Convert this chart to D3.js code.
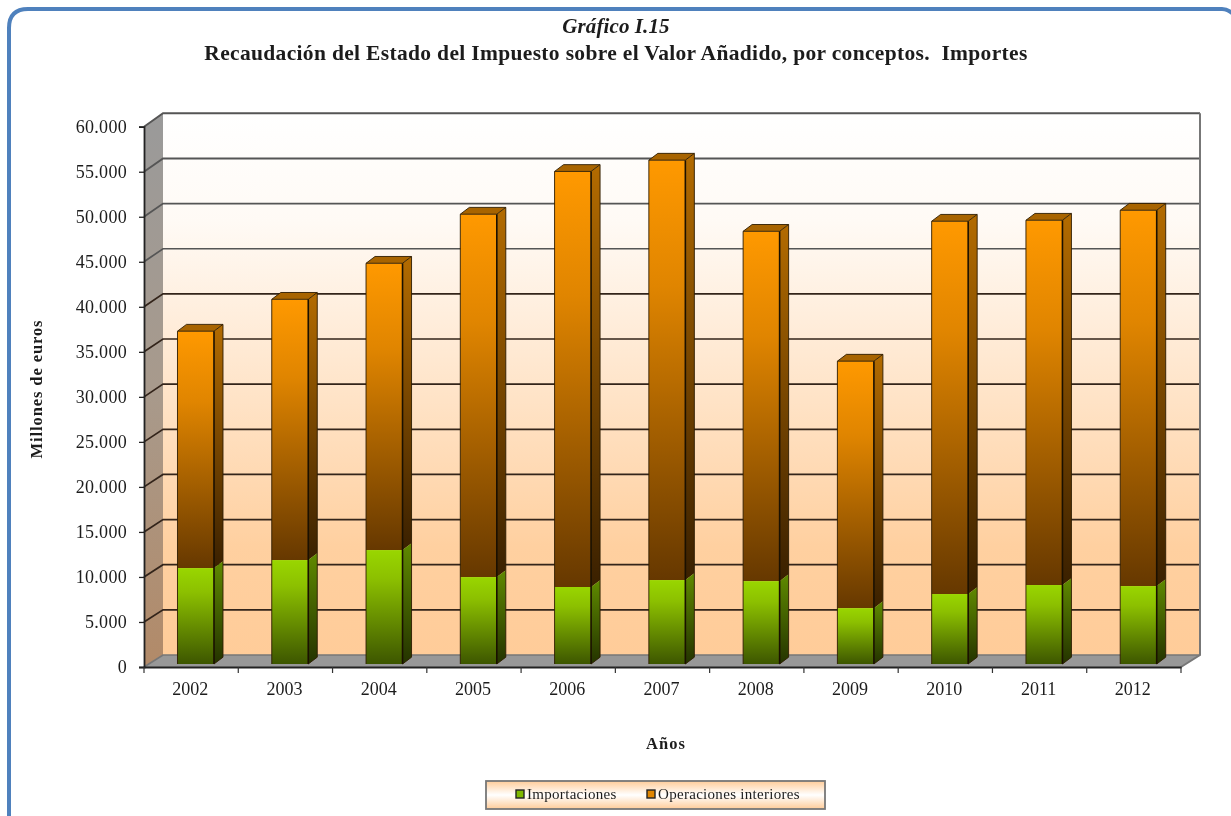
<!DOCTYPE html>
<html><head><meta charset="utf-8">
<script src="https://cdn.jsdelivr.net/npm/d3@7/dist/d3.min.js"></script>
<style>html,body{margin:0;padding:0;background:#fff}svg{display:block;filter:blur(.6px)}text{font-family:"Liberation Serif",serif;fill:#1c1c1c}</style>
</head><body><svg id="c" width="1231" height="816"></svg>
<script>
const years=["2002","2003","2004","2005","2006","2007","2008","2009","2010","2011","2012"];
const importaciones=[10650,11540,12650,9650,8550,9320,9200,6200,7770,8770,8650];
const interiores=[26310,28960,31850,40300,46150,46630,38850,27430,41400,40510,41740];
const yTicks=[0,5000,10000,15000,20000,25000,30000,35000,40000,45000,50000,55000,60000];
const seriesNames=["Importaciones","Operaciones interiores"];

const svg=d3.select("#c"),defs=svg.append("defs");
function grad(id,stops){const g=defs.append("linearGradient").attr("id",id).attr("x1",0).attr("y1",0).attr("x2",0).attr("y2",1);
 stops.forEach(([o,c])=>g.append("stop").attr("offset",o).attr("stop-color",c));}
grad("wall",[[0,"#ffffff"],[.2,"#fffaf5"],[.8,"#ffd0a0"],[1,"#ffcc99"]]);
grad("lwall",[[0,"#9a9a9a"],[.5,"#a89a8c"],[1,"#b28a68"]]);
grad("orF",[[0,"#ff9900"],[.3,"#e08500"],[1,"#663800"]]);
grad("orS",[[0,"#b36b00"],[1,"#3a2000"]]);
grad("grF",[[0,"#99d600"],[.25,"#8cc000"],[1,"#3d5600"]]);
grad("grS",[[0,"#5f8a00"],[1,"#243300"]]);
grad("leg",[[0,"#ffcc99"],[.5,"#ffffff"],[1,"#ffcc99"]]);

// frame
svg.append("path").attr("d","M9,820 Q9,812 9,806 V28 Q9,9 28,9 H1222 Q1228,9 1233,14").attr("fill","none").attr("stroke","#4f81bd").attr("stroke-width",4);

// scales
const x=d3.scaleBand().domain(years).range([144,1181]);
const yFront=d3.scaleLinear().domain([0,60000]).range([667,126.7]);
const yBack=d3.scaleLinear().domain([0,60000]).range([655,113.3]);
const yBar=d3.scaleLinear().domain([0,60000]).range([664,123.7]);
const dx=19,backX0=x.range()[0]+dx,backX1=x.range()[1]+dx;

// walls
svg.append("rect").attr("x",backX0).attr("y",yBack(60000)).attr("width",backX1-backX0).attr("height",yBack(0)-yBack(60000)).attr("fill","url(#wall)");
svg.append("path").attr("d",`M144,${yFront(60000)}L${backX0},${yBack(60000)}V${yBack(0)}L144,${yFront(0)}Z`).attr("fill","url(#lwall)");
svg.append("path").attr("d",`M144,${yFront(0)}L${backX0},${yBack(0)}H${backX1}L1181,${yFront(0)}Z`).attr("fill","#989898");
// gridlines
yTicks.forEach(v=>{
 const c=v>=45000?"#555":"#33241a",w=v>=50000?1.9:1.7;
 svg.append("path").attr("d",`M144,${yFront(v)}L${backX0},${yBack(v)}H${backX1}`).attr("fill","none").attr("stroke",v==0?"#777":c).attr("stroke-width",w);
});
svg.append("path").attr("d",`M${backX1},${yBack(60000)}V${yBack(0)}L1181,${yFront(0)}`).attr("fill","none").attr("stroke","#777").attr("stroke-width",2);

// bars
const barW=36.5,depX=9,depY=6.8;
function seg(g,cx,y0,y1,front,side,top){
 const l=cx-barW/2,r=cx+barW/2;
 g.append("rect").attr("x",l).attr("y",y1).attr("width",barW).attr("height",y0-y1).attr("fill",`url(#${front})`);
 g.append("path").attr("d",`M${r},${y1}l${depX},${-depY}V${y0-depY}L${r},${y0}Z`).attr("fill",`url(#${side})`);
 if(top) g.append("path").attr("d",`M${l},${y1}l${depX},${-depY}h${barW}l${-depX},${depY}Z`).attr("fill",top);
}
years.forEach((yr,i)=>{
 const cx=x(yr)+x.bandwidth()/2+4.6,g=svg.append("g");
 const a=importaciones[i],b=a+interiores[i];
 seg(g,cx,yBar(a),yBar(b),"orF","orS","#a86400");
 seg(g,cx,yBar(0),yBar(a),"grF","grS",null);
 const l=cx-barW/2,r=cx+barW/2,t=yBar(b),z=yBar(0);
 g.append("path").attr("d",`M${r},${t}V${z}`).attr("stroke","#1a1000").attr("stroke-width",1.6);
 g.append("path").attr("d",`M${l},${z}V${t}H${r}l${depX},${-depY}V${z-depY}L${r},${z}M${l},${t}l${depX},${-depY}h${barW}`).attr("fill","none").attr("stroke","#2e1c00").attr("stroke-width",.9);
});

// axes
const ax=svg.append("g").attr("transform","translate(144,0)")
 .call(d3.axisLeft(yFront).tickValues(yTicks).tickSize(5).tickPadding(12).tickFormat(d=>d3.format(",")(d).replace(/,/g,".")));
const ax2=svg.append("g").attr("transform",`translate(0,${yFront(0)})`)
 .call(d3.axisBottom(x).tickSize(0).tickPadding(15));
[ax,ax2].forEach(a=>{a.selectAll("text").attr("font-size",18).attr("letter-spacing",.3).style("font-family",'"Liberation Serif",serif').attr("fill","#222");
 a.select(".domain").attr("stroke","#222").attr("stroke-width",1.8);a.selectAll("line").attr("stroke","#222").attr("stroke-width",1.3);});
ax2.selectAll("text").attr("dx",-1).attr("letter-spacing",0);
const edges=years.map(d=>x(d)).concat([x.range()[1]]);
svg.selectAll(".xt").data(edges).join("line").attr("class","xt").attr("x1",d=>d).attr("x2",d=>d).attr("y1",yFront(0)).attr("y2",yFront(0)+6).attr("stroke","#333").attr("stroke-width",1.2);

// titles
svg.append("text").attr("x",616).attr("y",33).attr("text-anchor","middle").attr("font-size",21).attr("font-weight","bold").attr("font-style","italic").attr("letter-spacing",.1).text("Gráfico I.15");
svg.append("text").attr("x",616).attr("y",60).attr("text-anchor","middle").attr("font-size",21.5).attr("font-weight","bold").attr("letter-spacing",.33).attr("xml:space","preserve").style("white-space","pre").text("Recaudación del Estado del Impuesto sobre el Valor Añadido, por conceptos.  Importes");
svg.append("text").attr("transform","translate(42,389) rotate(-90)").attr("text-anchor","middle").attr("font-size",16.5).attr("font-weight","bold").attr("letter-spacing",.9).text("Millones de euros");
svg.append("text").attr("x",666).attr("y",749).attr("text-anchor","middle").attr("font-size",16.5).attr("font-weight","bold").attr("letter-spacing",1).text("Años");

// legend
svg.append("rect").attr("x",486).attr("y",781).attr("width",339).attr("height",28).attr("fill","url(#leg)").attr("stroke","#777").attr("stroke-width",1.8);
const legX=[516,647],legFill=["#7fb800","#e08500"];
seriesNames.forEach((n,i)=>{
 svg.append("rect").attr("x",legX[i]).attr("y",790).attr("width",8).attr("height",8).attr("fill",legFill[i]).attr("stroke","#222").attr("stroke-width",1.4);
 svg.append("text").attr("x",legX[i]+11).attr("y",799).attr("font-size",15).attr("letter-spacing",.3).text(n);
});
</script></body></html>
